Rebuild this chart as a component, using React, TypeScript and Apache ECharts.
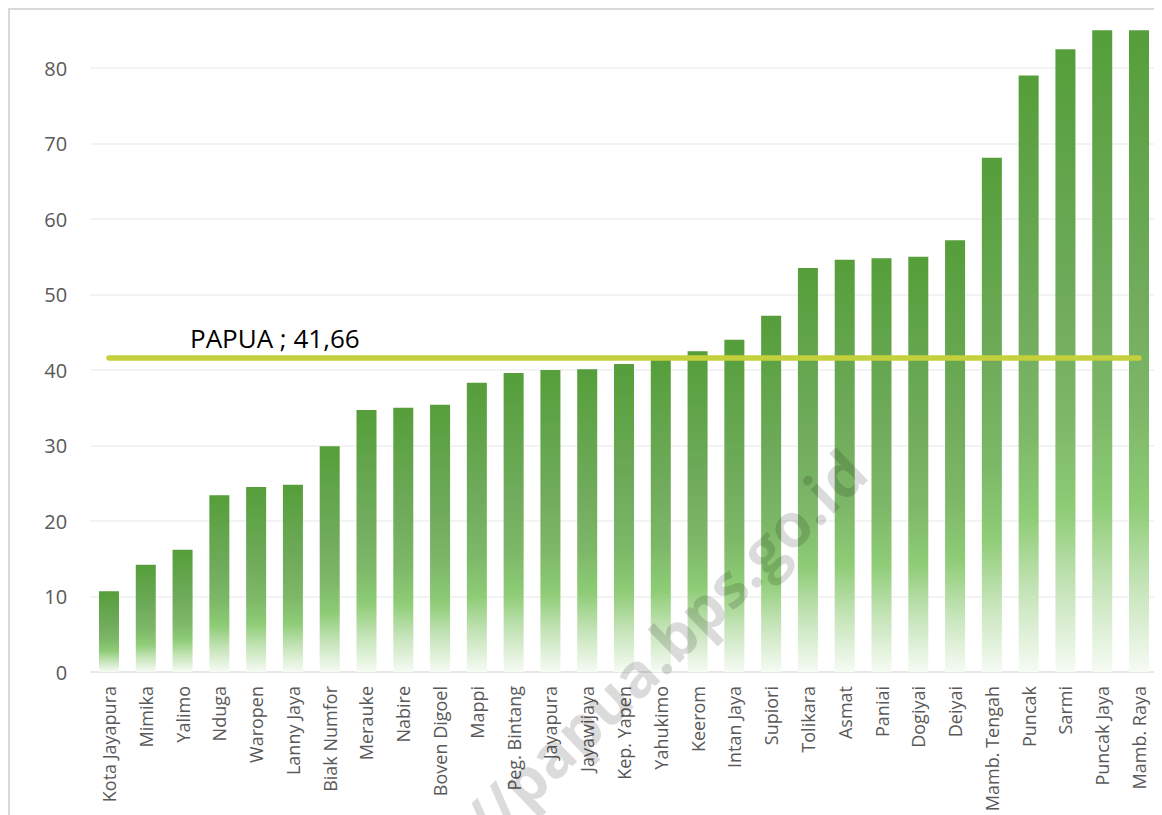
import React, { useEffect, useRef } from "react";
import * as echarts from "echarts";

// Regencies / city of Papua, sorted ascending
const categories: string[] = [
  "Kota Jayapura", "Mimika", "Yalimo", "Nduga", "Waropen", "Lanny Jaya",
  "Biak Numfor", "Merauke", "Nabire", "Boven Digoel", "Mappi", "Peg. Bintang",
  "Jayapura", "Jayawijaya", "Kep. Yapen", "Yahukimo", "Keerom", "Intan Jaya",
  "Supiori", "Tolikara", "Asmat", "Paniai", "Dogiyai", "Deiyai",
  "Mamb. Tengah", "Puncak", "Sarmi", "Puncak Jaya", "Mamb. Raya",
];

const values: number[] = [
  10.7, 14.2, 16.2, 23.4, 24.5, 24.8,
  29.9, 34.7, 35.0, 35.4, 38.3, 39.6,
  40.0, 40.1, 40.8, 41.6, 42.5, 44.0,
  47.2, 53.5, 54.6, 54.8, 55.0, 57.2,
  68.1, 79.0, 82.5, 85.6, 86.2,
];

// Province-level reference value
const PROVINCE_NAME = "PAPUA";
const PROVINCE_VALUE = 41.66;

const Y_MIN = 0;
const Y_MAX = 85;
const Y_STEP = 10;

const WATERMARK = "https://papua.bps.go.id";

export default function App() {
  const ref = useRef<HTMLDivElement>(null);

  useEffect(() => {
    if (!ref.current) return;
    const chart = echarts.init(ref.current, null, { renderer: "svg" });

    const barFill = new echarts.graphic.LinearGradient(0, 0, 0, 1, [
      { offset: 0, color: "#559E3A" },
      { offset: 0.4, color: "#6FAB5B" },
      { offset: 0.6, color: "#7DB868" },
      { offset: 0.74, color: "#8ECC76" },
      { offset: 0.86, color: "#C3E3B6" },
      { offset: 1, color: "#F6FBF4" },
    ]);

    const fmt = (v: number) => String(v).replace(".", ",");

    chart.setOption({
      animation: false,
      backgroundColor: "#ffffff",
      grid: { left: 80.6, right: 4.6, top: 20.25, bottom: 143, containLabel: false },
      xAxis: {
        type: "category",
        data: categories,
        axisLine: { lineStyle: { color: "#e3e3e3", width: 1.5 } },
        axisTick: { show: false },
        axisLabel: {
          interval: 0,
          rotate: 90,
          margin: 14,
          color: "#595959",
          fontSize: 18,
          fontFamily: "Open Sans",
        },
      },
      yAxis: {
        type: "value",
        min: Y_MIN,
        max: Y_MAX,
        interval: Y_STEP,
        axisLine: { show: false },
        axisTick: { show: false },
        axisLabel: {
          showMaxLabel: false,
          margin: 23.5,
          color: "#595959",
          fontSize: 20,
          fontFamily: "Open Sans",
        },
        splitLine: {
          showMaxLine: false,
          lineStyle: { color: "#efefef", width: 1.5 },
        },
      },
      series: [
        {
          type: "bar",
          data: values,
          barCategoryGap: "45.6%",
          itemStyle: { color: barFill },
          markLine: {
            silent: true,
            symbol: "none",
            z: 5,
            lineStyle: { color: "#C4D03C", width: 5.5, type: "solid", cap: "round" },
            label: {
              show: true,
              position: "insideStartTop",
              distance: [81, 6],
              color: "#000000",
              fontSize: 26,
              fontFamily: "Open Sans",
              formatter: () => `${PROVINCE_NAME} ; ${fmt(PROVINCE_VALUE)}`,
            },
            data: [
              [
                { coord: [categories[0], PROVINCE_VALUE] },
                { coord: [categories[categories.length - 1], PROVINCE_VALUE] },
              ],
            ],
          },
        },
      ],
      graphic: [
        {
          type: "text",
          x: 590,
          y: 697,
          rotation: (44 * Math.PI) / 180,
          z: 100,
          silent: true,
          style: {
            text: WATERMARK,
            fontSize: 61,
            fontWeight: "bold",
            fontFamily: "Open Sans",
            fill: "rgba(0,0,0,0.14)",
            align: "center",
            verticalAlign: "middle",
          },
        },
      ],
    });

    return () => chart.dispose();
  }, []);

  return (
    <div
      style={{
        width: 1152,
        height: 805,
        borderTop: "2px solid #d9d9d9",
        borderLeft: "2px solid #d9d9d9",
        overflow: "hidden",
      }}
    >
      <div ref={ref} style={{ width: 1152, height: 805 }} />
    </div>
  );
}
